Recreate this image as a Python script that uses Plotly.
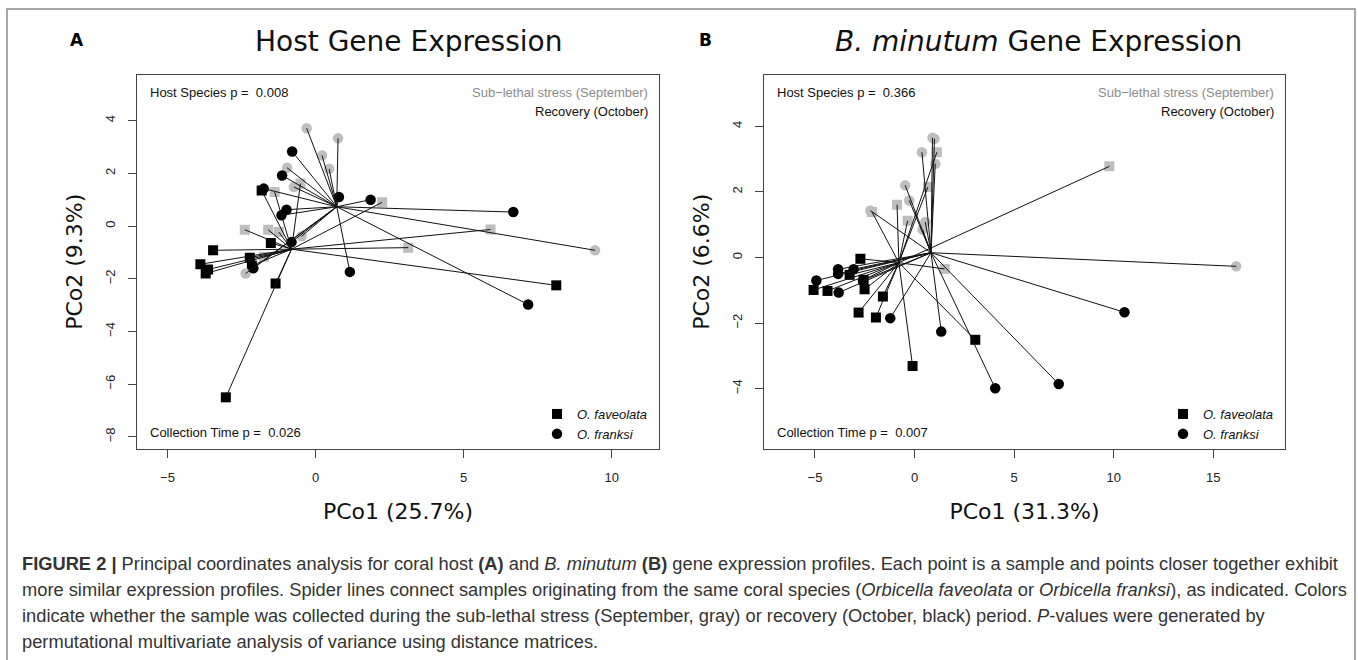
import plotly.graph_objects as go
import numpy as np

# ---------------- data ----------------
# Panel A: Host gene expression (PCo1 25.7 %, PCo2 9.3 %)
A_fav_sep_x = [-1.38, -0.51, 2.25, -2.39, -1.60, -1.24, -1.74, 3.13, 5.91]
A_fav_sep_y = [1.29, 1.61, 0.90, -0.14, -0.14, -0.23, -1.17, -0.82, -0.13]
A_fav_oct_x = [-1.82, -1.51, -3.46, -3.89, -3.63, -3.71, -2.22, -2.15, -1.35, -3.03, 8.13]
A_fav_oct_y = [1.35, -0.64, -0.92, -1.45, -1.65, -1.80, -1.20, -1.50, -2.18, -6.50, -2.25]
A_fra_sep_x = [-0.30, 0.76, 0.22, 0.46, -0.96, -0.73, -0.47, -2.36, 9.44]
A_fra_sep_y = [3.71, 3.33, 2.68, 2.17, 2.21, 1.48, -0.39, -1.80, -0.92]
A_fra_oct_x = [-0.79, -1.13, -1.75, -0.98, -1.15, 0.79, 1.86, 1.16, -0.81, -2.10, 6.68, 7.18]
A_fra_oct_y = [2.83, 1.92, 1.42, 0.62, 0.41, 1.10, 1.00, -1.74, -0.61, -1.60, 0.53, -2.98]

# Panel B: B. minutum gene expression (PCo1 31.3 %, PCo2 6.6 %)
B_fav_sep_x = [1.12, 0.67, -0.88, -2.14, -0.35, 1.51, 9.78]
B_fav_sep_y = [3.21, 2.15, 1.61, 1.39, 1.12, -0.35, 2.78]
B_fav_oct_x = [-2.72, -5.07, -4.37, -2.51, -1.59, -3.26, -2.81, -1.94, -0.10, 3.05, -2.56]
B_fav_oct_y = [-0.04, -0.99, -1.02, -0.97, -1.19, -0.53, -1.68, -1.83, -3.31, -2.51, -0.68]
B_fra_sep_x = [0.90, 1.00, 0.37, 1.04, -0.47, -0.27, -2.22, 0.54, 0.40, 16.15]
B_fra_sep_y = [3.65, 3.62, 3.21, 2.86, 2.20, 1.74, 1.43, 1.08, 0.85, -0.27]
B_fra_oct_x = [-4.93, -3.84, -3.84, -3.06, -2.59, -3.81, -1.22, 1.34, 4.05, 7.24, 10.54]
B_fra_oct_y = [-0.70, -0.36, -0.50, -0.36, -0.70, -1.07, -1.85, -2.26, -3.99, -3.86, -1.67]

panel_titles = ["Host Gene Expression", "<i>B. minutum</i> Gene Expression"]
panel_letters = ["A", "B"]
x_titles = ["PCo1 (25.7%)", "PCo1 (31.3%)"]
y_titles = ["PCo2 (9.3%)", "PCo2 (6.6%)"]
host_p = ["0.008", "0.366"]
time_p = ["0.026", "0.007"]
x_ticks = [[-5, 0, 5, 10], [-5, 0, 5, 10, 15]]
y_ticks = [[-8, -6, -4, -2, 0, 2, 4], [-4, -2, 0, 2, 4]]
species_names = ["<i>O. faveolata</i>", "<i>O. franksi</i>"]

caption_lines = [
    "<b>FIGURE 2 |</b> Principal coordinates analysis for coral host <b>(A)</b> and <i>B. minutum</i> <b>(B)</b> gene expression profiles. Each point is a sample and points closer together exhibit",
    "more similar expression profiles. Spider lines connect samples originating from the same coral species (<i>Orbicella faveolata</i> or <i>Orbicella franksi</i>), as indicated. Colors",
    "indicate whether the sample was collected during the sub-lethal stress (September, gray) or recovery (October, black) period. <i>P</i>-values were generated by",
    "permutational multivariate analysis of variance using distance matrices.",
]

# ---------------- layout helpers ----------------
W, H = 1358, 660
def px(x):
    return x / W
def py(y):
    return 1 - y / H

GRAY = "#BEBEBE"
BLACK = "#000000"
SANS = "Liberation Sans, Arial, sans-serif"
TICK_FONT = dict(family=SANS, size=13, color="#222222")
TITLE_FONT = "DejaVu Sans, sans-serif"

panels = [
    dict(fav_sep=(A_fav_sep_x, A_fav_sep_y), fav_oct=(A_fav_oct_x, A_fav_oct_y),
         fra_sep=(A_fra_sep_x, A_fra_sep_y), fra_oct=(A_fra_oct_x, A_fra_oct_y),
         box=(137, 659, 74.5, 449), xr=[-6.03, 11.6], yr=[-8.46, 5.75],
         letter_x=77, title_x=253),
    dict(fav_sep=(B_fav_sep_x, B_fav_sep_y), fav_oct=(B_fav_oct_x, B_fav_oct_y),
         fra_sep=(B_fra_sep_x, B_fra_sep_y), fra_oct=(B_fra_oct_x, B_fra_oct_y),
         box=(764, 1285, 74.5, 449), xr=[-7.56, 18.6], yr=[-5.84, 5.58],
         letter_x=705, title_x=833),
]

fig = go.Figure()
annotations = []
layout_axes = {}

for i, p in enumerate(panels):
    sfx = "" if i == 0 else str(i + 1)
    xa, ya = "x" + sfx, "y" + sfx
    legend_name = "legend" if i == 0 else "legend2"
    left, right, top, bottom = p["box"]

    # spider lines: each sample to its species centroid
    lx, ly = [], []
    for sp in ("fav", "fra"):
        xs = np.array(p[sp + "_sep"][0] + p[sp + "_oct"][0])
        ys = np.array(p[sp + "_sep"][1] + p[sp + "_oct"][1])
        cx, cy = xs.mean(), ys.mean()
        for xv, yv in zip(xs, ys):
            lx += [cx, xv, None]
            ly += [cy, yv, None]

    specs = [
        ("fav_sep", "square", GRAY, None),
        ("fav_oct", "square", BLACK, species_names[0]),
        ("fra_sep", "circle", GRAY, None),
        ("fra_oct", "circle", BLACK, species_names[1]),
    ]
    for key, sym, col, name in specs:
        xs, ys = p[key]
        fig.add_trace(go.Scatter(
            x=xs, y=ys, mode="markers", xaxis=xa, yaxis=ya,
            marker=dict(symbol=sym, color=col, size=10.5 if sym == "circle" else 10,
                        line=dict(width=0)),
            name=name if name else key, showlegend=name is not None,
            legend=legend_name, hoverinfo="x+y",
        ))
    fig.add_trace(go.Scatter(
        x=lx, y=ly, mode="lines", xaxis=xa, yaxis=ya,
        line=dict(color="#111111", width=1), showlegend=False, hoverinfo="skip",
    ))

    common = dict(showline=True, mirror=True, linecolor="#444444", linewidth=1,
                  ticks="outside", ticklen=8, tickcolor="#444444", tickwidth=1,
                  showgrid=False, zeroline=False, tickfont=TICK_FONT, ticklabelstandoff=8)
    layout_axes["xaxis" + sfx] = dict(
        common, domain=[px(left), px(right)], range=p["xr"], anchor=ya,
        tickmode="array", tickvals=x_ticks[i],
        ticktext=[str(v).replace("-", "\u2212") for v in x_ticks[i]],
        title=dict(text=x_titles[i], font=dict(family=TITLE_FONT, size=22, color="#111"), standoff=20),
    )
    layout_axes["yaxis" + sfx] = dict(
        common, domain=[py(bottom), py(top)], range=p["yr"], anchor=xa,
        tickmode="array", tickvals=y_ticks[i],
        ticktext=[str(v).replace("-", "\u2212") for v in y_ticks[i]],
        tickangle=-90,
        title=dict(text=y_titles[i], font=dict(family=TITLE_FONT, size=22, color="#111"), standoff=14),
    )

    # panel letter and title
    annotations.append(dict(text="<b>" + panel_letters[i] + "</b>", x=px(p["letter_x"]), y=py(40),
                            xref="paper", yref="paper", showarrow=False,
                            font=dict(family=TITLE_FONT, size=17, color="#000"),
                            xanchor="center", yanchor="middle"))
    annotations.append(dict(text=panel_titles[i], x=px(p["title_x"]), y=py(42),
                            xref="paper", yref="paper", showarrow=False,
                            font=dict(family=TITLE_FONT, size=28, color="#111"),
                            xanchor="left", yanchor="middle"))
    inner = dict(family=SANS, size=13)
    annotations.append(dict(text="Host Species p =\u00a0 " + host_p[i], x=px(left + 11), y=py(93),
                            xref="paper", yref="paper", showarrow=False, xanchor="left", yanchor="middle",
                            font=dict(inner, color="#111")))
    annotations.append(dict(text="Collection Time p =\u00a0 " + time_p[i], x=px(left + 11), y=py(433),
                            xref="paper", yref="paper", showarrow=False, xanchor="left", yanchor="middle",
                            font=dict(inner, color="#111")))
    annotations.append(dict(text="Sub\u2212lethal stress (September)", x=px(right - 9), y=py(93),
                            xref="paper", yref="paper", showarrow=False, xanchor="right", yanchor="middle",
                            font=dict(inner, color="#8C8C8C")))
    annotations.append(dict(text="Recovery (October)", x=px(right - 9), y=py(111),
                            xref="paper", yref="paper", showarrow=False, xanchor="right", yanchor="middle",
                            font=dict(inner, color="#111")))
    layout_axes[legend_name] = dict(
        x=px(right - 6), xanchor="right", y=py(bottom), yanchor="bottom",
        bgcolor="rgba(0,0,0,0)", borderwidth=0, itemwidth=30, tracegroupgap=0,
        font=dict(family=SANS, size=13, color="#111"),
    )

# caption
for k, line in enumerate(caption_lines):
    annotations.append(dict(text=line, x=px(20), y=py(563 + 26 * k), xref="paper", yref="paper",
                            showarrow=False, xanchor="left", yanchor="middle", align="left",
                            font=dict(family=SANS, size=18.3, color="#333333")))

fig.update_layout(
    width=W, height=H, margin=dict(l=0, r=0, t=0, b=0),
    paper_bgcolor="white", plot_bgcolor="white",
    annotations=annotations,
    shapes=[dict(type="rect", xref="paper", yref="paper", x0=px(7), x1=px(1355), y0=py(9), y1=py(680),
                 line=dict(color="#8A8A8A", width=1.5), fillcolor="rgba(0,0,0,0)", layer="below")],
    **layout_axes,
)

fig.write_html("out.html", config={"displayModeBar": False},
               post_script="document.body.style.margin='0';document.body.style.overflow='hidden';")
